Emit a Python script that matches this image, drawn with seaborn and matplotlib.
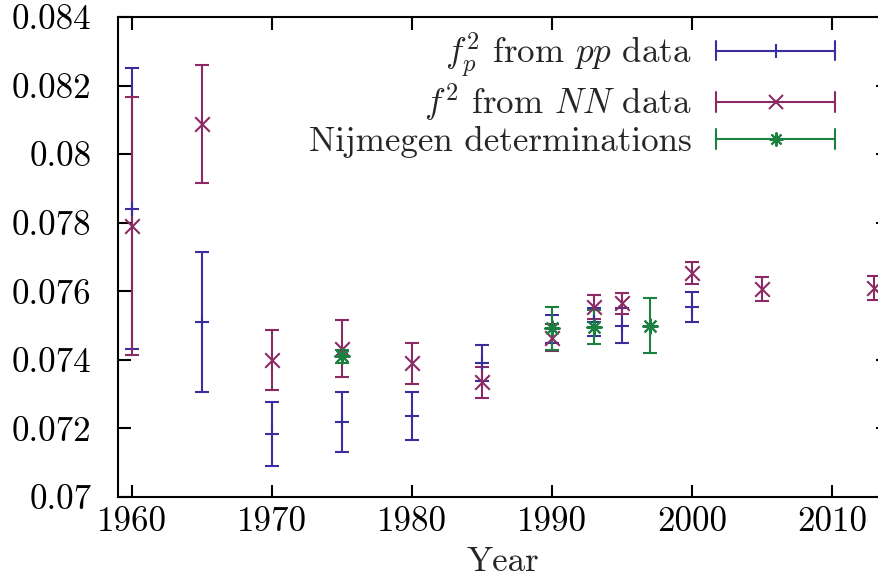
import numpy as np
import pandas as pd
import seaborn as sns
import matplotlib
matplotlib.use("Agg")
import matplotlib.pyplot as plt
from matplotlib.lines import Line2D
from matplotlib.legend_handler import HandlerBase

# f_p^2 from pp data
years_pp = [1960, 1965, 1970, 1975, 1980, 1985, 1990, 1993, 1995, 2000]
f2_pp = [0.07841, 0.0751, 0.07184, 0.07219, 0.07236, 0.0739, 0.0749, 0.0751, 0.0750, 0.07553]
err_pp = [0.0041, 0.00205, 0.00093, 0.00088, 0.00069, 0.00053, 0.0004, 0.0004, 0.0005, 0.00044]

# f^2 from NN data
years_nn = [1960, 1965, 1970, 1975, 1980, 1985, 1990, 1993, 1995, 2000, 2005, 2013]
f2_nn = [0.0779, 0.08088, 0.0740, 0.07433, 0.0739, 0.07335, 0.07465, 0.07555, 0.07565, 0.07653, 0.07607, 0.0761]
err_nn = [0.00377, 0.00171, 0.00087, 0.00083, 0.0006, 0.00045, 0.0004, 0.00035, 0.0003, 0.00032, 0.00035, 0.00035]

# Nijmegen determinations
years_nij = [1975, 1990, 1993, 1997]
f2_nij = [0.0741, 0.07492, 0.07495, 0.0750]
err_nij = [0.0002, 0.00062, 0.0005, 0.0008]

y_ticks = [0.07, 0.072, 0.074, 0.076, 0.078, 0.08, 0.082, 0.084]
y_tick_labels = ["0.07", "0.072", "0.074", "0.076", "0.078", "0.08", "0.082", "0.084"]
x_ticks = [1960, 1970, 1980, 1990, 2000, 2010]

labels = [r"$f_p^2$ from $pp$ data", r"$f^2$ from $NN$ data", "Nijmegen determinations"]
colors = ["#3a2d9e", "#8c2a64", "#1c8040"]
markers = ["+", "x", (8, 2, 0)]

sns.set_theme(style="ticks")
plt.rcParams["font.family"] = ["cmr10", "DejaVu Serif"]
plt.rcParams["mathtext.fontset"] = "cm"
plt.rcParams["axes.unicode_minus"] = False
plt.rcParams["axes.formatter.use_mathtext"] = True

FS = 25.2

frames = [
    pd.DataFrame({"year": years_pp, "f2": f2_pp, "err": err_pp, "set": labels[0]}),
    pd.DataFrame({"year": years_nn, "f2": f2_nn, "err": err_nn, "set": labels[1]}),
    pd.DataFrame({"year": years_nij, "f2": f2_nij, "err": err_nij, "set": labels[2]}),
]

fig = plt.figure(figsize=(8.79, 5.79), dpi=100)
ax = fig.add_axes([118 / 879, 1 - 497 / 579, 770.5 / 879, 480 / 579])

lw = 1.5
for df, c, m, lab in zip(frames, colors, markers, labels):
    ax.errorbar(df["year"], df["f2"], yerr=df["err"], fmt="none", ecolor=c,
                elinewidth=lw, capsize=5, capthick=lw, zorder=2)
    sns.scatterplot(data=df, x="year", y="f2", marker=m, color=c, s=110,
                    linewidth=lw, ax=ax, legend=False, zorder=3)


class HandlerXErr(HandlerBase):
    """Horizontal error bar key sample: line, end caps and a centred marker."""

    def create_artists(self, legend, orig_handle, xdescent, ydescent,
                       width, height, fontsize, trans):
        y = height / 2 - ydescent
        c = orig_handle.get_color()
        cap = 0.28 * fontsize
        line = Line2D([-xdescent, width - xdescent], [y, y], color=c, lw=lw)
        c1 = Line2D([-xdescent, -xdescent], [y - cap, y + cap], color=c, lw=lw)
        c2 = Line2D([width - xdescent] * 2, [y - cap, y + cap], color=c, lw=lw)
        mk = Line2D([width / 2 - xdescent], [y], marker=orig_handle.get_marker(),
                    markersize=orig_handle.get_markersize(), color=c,
                    markeredgewidth=lw, linestyle="none")
        arts = [line, c1, c2, mk]
        for a in arts:
            a.set_transform(trans)
        return arts


handles = [Line2D([], [], color=c, marker=m, markersize=10, linestyle="none")
           for c, m in zip(colors, markers)]
ax.legend(handles, labels, loc="upper right", bbox_to_anchor=(0.931, 0.972),
          frameon=False, markerfirst=False, fontsize=FS, handlelength=3.4,
          handletextpad=0.7, labelspacing=0.08, borderaxespad=0, borderpad=0,
          handler_map={Line2D: HandlerXErr()})

ax.set_xlim(1959, 2014)
ax.set_ylim(0.07, 0.084)
ax.set_xticks(x_ticks)
ax.set_xticklabels([str(t) for t in x_ticks])
ax.set_yticks(y_ticks)
ax.set_yticklabels(y_tick_labels)
ax.tick_params(direction="in", length=9, width=1.5, top=True, right=True,
               labelsize=FS, colors="black")
ax.tick_params(axis="y", pad=19)
ax.tick_params(axis="x", pad=7)
for s in ax.spines.values():
    s.set_linewidth(1.5)
    s.set_color("black")
ax.set_xlabel("Year", fontsize=FS, labelpad=6)
ax.set_ylabel("")

fig.savefig("out.png", dpi=100)
